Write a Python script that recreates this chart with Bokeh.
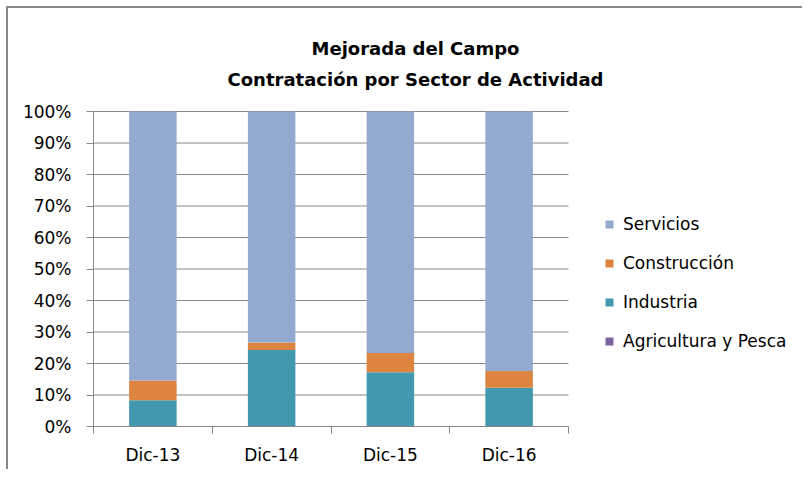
from bokeh.plotting import figure
from bokeh.models import (ColumnDataSource, FixedTicker, NumeralTickFormatter, Legend,
                          LegendItem, Label, Range1d)
from bokeh.embed import file_html
from bokeh.resources import INLINE

categories = ["Dic-13", "Dic-14", "Dic-15", "Dic-16"]
agricultura = [0.0, 0.0, 0.0, 0.0]
industria = [0.083, 0.243, 0.172, 0.123]
construccion = [0.063, 0.024, 0.061, 0.053]
servicios = [0.854, 0.733, 0.767, 0.824]
series_keys = ["agri", "ind", "cons", "serv"]
series_names = ["Agricultura y Pesca", "Industria", "Construcción", "Servicios"]
colors = ["#7F63A1", "#4298AF", "#DD8440", "#93A9CF"]
y_ticks = [0.0, 0.1, 0.2, 0.3, 0.4, 0.5, 0.6, 0.7, 0.8, 0.9, 1.0]
title_lines = ["Mejorada del Campo", "Contratación por Sector de Actividad"]

FONT = "DejaVu Sans"
GRAY = "#888888"

# layout (pixels)
W, H = 802, 469
LEFT, BOTTOM = 93, 43            # frame spans x 93..802, y 0..426
PLOT_W, PLOT_H = 475, 315        # pixel extent of the data area (0..4, 0..1)
FRAME_W, FRAME_H = W - LEFT, H - BOTTOM

n = len(categories)
x_end = n * FRAME_W / PLOT_W
y_end = 1.0 * FRAME_H / PLOT_H

x = [i + 0.5 for i in range(n)]
src = ColumnDataSource(dict(x=x, agri=agricultura, ind=industria,
                            cons=construccion, serv=servicios))
grid_src = ColumnDataSource(dict(y=y_ticks, x0=[0] * len(y_ticks), x1=[n] * len(y_ticks)))

p = figure(width=W, height=H, output_backend="svg", toolbar_location=None,
           x_range=Range1d(0, x_end), y_range=Range1d(0, y_end),
           min_border_left=LEFT, min_border_right=0, min_border_top=0,
           min_border_bottom=BOTTOM)
p.outline_line_color = None
p.background_fill_color = None
p.border_fill_color = None
p.styles = {"box-shadow": "inset 6px 6px 0 0 #ffffff, inset 8px 8px 0 0 #888888"}

# gridlines (limited to the data area)
p.segment(x0="x0", x1="x1", y0="y", y1="y", source=grid_src,
          line_color=GRAY, line_width=1)

renderers = p.vbar_stack(series_keys, x="x", width=0.4, source=src,
                         color=colors, line_color=None)

# y axis
p.yaxis.bounds = (0, 1)
p.yaxis.ticker = FixedTicker(ticks=y_ticks)
p.yaxis.formatter = NumeralTickFormatter(format="0%")
p.yaxis.axis_line_color = GRAY
p.yaxis.major_tick_line_color = GRAY
p.yaxis.major_tick_out = 7
p.yaxis.major_tick_in = 0
p.yaxis.minor_tick_line_color = None
p.yaxis.major_label_standoff = 15
p.yaxis.major_label_text_font = FONT
p.yaxis.major_label_text_font_size = "17px"
p.yaxis.major_label_text_color = "black"

# x axis: labels at centres, tick marks at category boundaries
p.xaxis.bounds = (0, n)
p.xaxis.ticker = FixedTicker(ticks=x, minor_ticks=list(range(n + 1)))
p.xaxis.major_label_overrides = {xx: c for xx, c in zip(x, categories)}
p.xaxis.axis_line_color = GRAY
p.xaxis.major_tick_line_color = None
p.xaxis.major_tick_out = 7
p.xaxis.major_tick_in = 0
p.xaxis.minor_tick_line_color = GRAY
p.xaxis.minor_tick_out = 7
p.xaxis.minor_tick_in = 0
p.xaxis.major_label_standoff = 11
p.xaxis.major_label_text_font = FONT
p.xaxis.major_label_text_font_size = "17px"
p.xaxis.major_label_text_color = "black"

p.xgrid.grid_line_color = None
p.ygrid.grid_line_color = None

# legend (top entry = top of stack)
items = [LegendItem(label=nm, renderers=[r]) for nm, r in zip(series_names, renderers)][::-1]
legend = Legend(items=items, location=(511, 75), padding=0, margin=0,
                border_line_color=None, background_fill_alpha=0,
                glyph_width=10, glyph_height=10, label_height=20,
                label_standoff=9, spacing=19,
                label_text_font=FONT, label_text_font_size="17px",
                label_text_color="black")
p.add_layout(legend, "center")

# titles
for txt, yy in zip(title_lines, [378, 347]):
    p.add_layout(Label(x=322, y=yy, x_units="screen", y_units="screen",
                       text=txt, text_align="center", text_baseline="alphabetic",
                       text_font=FONT, text_font_style="bold",
                       text_font_size="18px", text_color="black"))

open("out.html", "w").write(file_html(p, INLINE))
